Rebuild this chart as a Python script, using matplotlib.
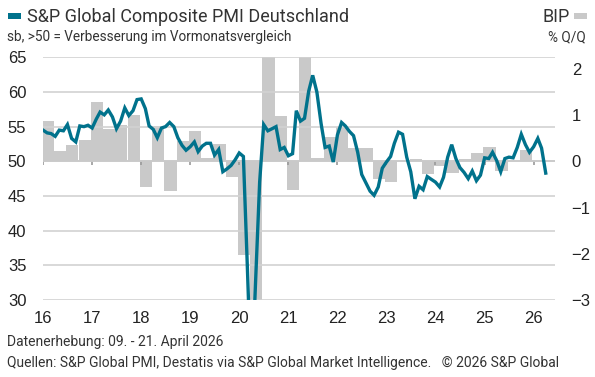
import matplotlib.pyplot as plt
import matplotlib.dates as mdates
from matplotlib.patches import Rectangle
import pandas as pd

# S&P Global Composite PMI Deutschland, monthly from Jan 2016
pmi = [54.5, 54.1, 54.0, 53.6, 54.5, 54.4, 55.3, 53.3, 52.8, 55.1, 55.0, 55.2,
       54.8, 56.1, 57.1, 56.7, 57.4, 56.4, 54.7, 55.8, 57.7, 56.6, 57.3, 58.9,
       59.0, 57.6, 55.1, 54.6, 53.4, 54.8, 55.0, 55.6, 55.0, 53.4, 52.3, 51.6,
       52.1, 52.8, 51.4, 52.2, 52.6, 52.6, 50.9, 51.7, 48.5, 48.9, 49.4, 50.2,
       51.2, 50.7, 35.0, 17.4, 32.3, 47.0, 55.3, 54.4, 54.7, 55.0, 51.7, 52.0,
       50.8, 51.1, 57.3, 55.8, 56.2, 60.1, 62.4, 60.0, 55.5, 52.0, 52.2, 49.9,
       53.8, 55.6, 55.1, 54.3, 53.7, 51.3, 48.1, 46.9, 45.7, 45.1, 46.3, 49.0,
       49.9, 50.7, 52.6, 54.2, 53.9, 50.6, 48.5, 44.6, 46.4, 45.9, 47.8, 47.4,
       47.0, 46.3, 47.7, 50.6, 52.4, 50.4, 49.1, 48.4, 47.5, 48.6, 47.2, 48.0,
       50.5, 50.4, 51.3, 50.1, 48.5, 50.4, 50.6, 50.5, 52.0, 53.9, 52.4, 51.3,
       52.1, 53.3, 51.9, 48.3]

# BIP % Q/Q, quarterly from Q1 2016
gdp = [0.88, 0.22, 0.35, 0.47,
       1.28, 0.70, 0.78, 1.00,
       -0.55, 0.77, -0.65, 0.44,
       0.66, 0.07, 0.37, -0.33,
       -2.02, -9.7, 8.9, 0.97,
       -0.62, 2.4, 0.08, 0.52,
       0.75, 0.28, 0.28, -0.38,
       -0.45, 0.0, 0.05, -0.27,
       -0.10, -0.25, 0.05, 0.18,
       0.31, -0.22, 0.0, 0.25]

years = list(range(2016, 2027))
year_labels = [str(y)[2:] for y in years]
pmi_ticks = [30, 35, 40, 45, 50, 55, 60, 65]
gdp_ticks = [-3, -2, -1, 0, 1, 2]

months = pd.date_range('2016-01-01', periods=len(pmi), freq='MS')
quarters = pd.date_range('2016-01-01', periods=len(gdp), freq='QS')
year_dates = [pd.Timestamp(f'{y}-01-01') for y in years]

teal = '#00728c'
bar_grey = '#c9c9c9'
grid_grey = '#d2d2d2'
zero_grey = '#9a9a9a'
text_col = '#333333'

W, H = 595, 377
fig = plt.figure(figsize=(W / 100, H / 100), dpi=100)

left, right, top, bottom = 43, 555, 57.3, 300
ax_gdp = fig.add_axes([left / W, 1 - bottom / H, (right - left) / W, (bottom - top) / H])
ax_pmi = ax_gdp.twinx()

# bars: GDP on right-hand scale
ax_gdp.bar(quarters - pd.Timedelta(days=9), gdp, width=91, align='edge',
           color=bar_grey, linewidth=0)
ax_gdp.set_ylim(-3, 2.25)
ax_gdp.yaxis.tick_right()
ax_gdp.set_yticks(gdp_ticks)
ax_gdp.tick_params(axis='y', length=0, pad=12, labelsize=12, labelcolor='#222222')

# line: PMI on left-hand scale
ax_pmi.set_ylim(30, 65)
ax_pmi.yaxis.tick_left()
ax_pmi.set_yticks(pmi_ticks)
ax_pmi.tick_params(axis='y', length=0, pad=12, labelsize=12, labelcolor='#222222')
ax_pmi.grid(axis='y', color=grid_grey, lw=1.2, zorder=0)
ax_pmi.axhline(50, color=zero_grey, lw=1.2, zorder=1)
ax_pmi.vlines(year_dates, 49.4, 50, color=zero_grey, lw=1.2, zorder=1)
ax_pmi.plot(months, pmi, color=teal, lw=2.4, zorder=3, solid_joinstyle='miter')

ax_gdp.set_xlim(pd.Timestamp('2016-01-01'), pd.Timestamp('2026-06-09'))
ax_gdp.set_xticks(year_dates)
ax_gdp.set_xticklabels(year_labels)
ax_gdp.tick_params(axis='x', length=0, pad=8, labelsize=12, labelcolor='#222222')

for a in (ax_gdp, ax_pmi):
    for s in a.spines.values():
        s.set_visible(False)

for lab in ax_gdp.get_xticklabels() + ax_gdp.get_yticklabels() + ax_pmi.get_yticklabels():
    lab.set_fontfamily('Liberation Sans')

# header
fig.add_artist(Rectangle((7.6 / W, 1 - 19 / H), 13 / W, 5.7 / H,
                         transform=fig.transFigure, color=teal, lw=0))
fig.text(26.6 / W, 1 - 22 / H, 'S&P Global Composite PMI Deutschland',
         fontsize=13, family='Roboto', color=text_col, va='baseline')
fig.text(7 / W, 1 - 41 / H, 'sb, >50 = Verbesserung im Vormonatsvergleich',
         fontsize=9.8, family='Roboto', color=text_col, va='baseline')
fig.add_artist(Rectangle((574 / W, 1 - 19 / H), 13 / W, 5.7 / H,
                         transform=fig.transFigure, color=bar_grey, lw=0))
fig.text(570 / W, 1 - 22 / H, 'BIP', fontsize=13, family='Roboto',
         color=text_col, va='baseline', ha='right')
fig.text(586 / W, 1 - 41 / H, '% Q/Q', fontsize=9.8, family='Roboto',
         color=text_col, va='baseline', ha='right')

# footer
fig.text(7 / W, 1 - 346 / H, 'Datenerhebung: 09. - 21. April 2026',
         fontsize=10, family='Roboto', color=text_col, va='baseline')
fig.text(7 / W, 1 - 367 / H,
         'Quellen: S&P Global PMI, Destatis via S&P Global Market Intelligence.   \u00a9 2026 S&P Global',
         fontsize=10, family='Roboto', color=text_col, va='baseline')

fig.savefig('out.png', dpi=100)
